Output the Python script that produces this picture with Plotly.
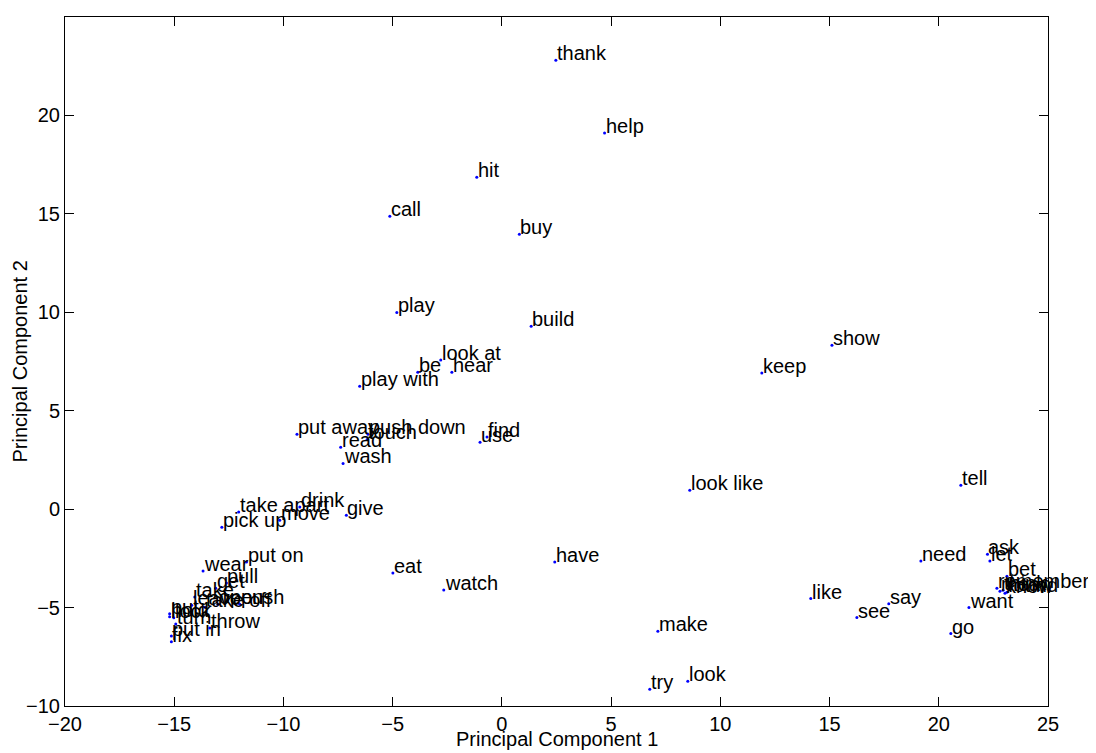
import plotly.graph_objects as go

words = ["thank", "help", "hit", "call", "buy", "play", "build", "show", "look at", "be",
         "hear", "keep", "play with", "put away", "push down", "touch", "read", "wash", "use", "find",
         "look like", "tell", "drink", "take apart", "give", "move", "pick up", "put on", "have", "need",
         "ask", "let", "bet", "remember", "mean", "think", "know", "found", "want", "like",
         "say", "see", "go", "make", "look", "try", "eat", "watch", "wear", "pull",
         "get", "take", "push", "leave", "open", "take off", "put", "hold", "lock", "turn",
         "throw", "put in", "fix"]
pc1 = [2.47, 4.70, -1.15, -5.13, 0.80, -4.81, 1.34, 15.11, -2.80, -3.85,
       -2.29, 11.90, -6.51, -9.38, -6.13, -6.17, -7.38, -7.27, -1.00, -0.68,
       8.60, 21.01, -9.25, -12.05, -7.12, -10.17, -12.82, -11.69, 2.42, 19.18,
       22.23, 22.34, 23.12, 22.66, 22.80, 22.94, 23.03, 23.12, 21.38, 14.14,
       17.71, 16.25, 20.55, 7.14, 8.51, 6.77, -4.99, -2.66, -13.68, -12.61,
       -13.10, -14.06, -12.00, -14.20, -13.00, -13.60, -15.21, -15.21, -15.02, -14.93,
       -13.37, -15.13, -15.13]
pc2 = [22.80, 19.11, 16.86, 14.88, 13.96, 9.99, 9.29, 8.33, 7.57, 6.96,
       6.96, 6.91, 6.24, 3.81, 3.81, 3.54, 3.15, 2.32, 3.40, 3.67,
       0.96, 1.22, 0.11, -0.15, -0.31, -0.56, -0.92, -2.68, -2.69, -2.64,
       -2.29, -2.64, -3.41, -4.02, -4.17, -4.12, -4.27, -4.22, -5.00, -4.54,
       -4.80, -5.51, -6.32, -6.20, -8.74, -9.15, -3.25, -4.11, -3.14, -3.75,
       -4.02, -4.46, -4.83, -4.88, -4.83, -4.98, -5.31, -5.47, -5.52, -5.84,
       -6.04, -6.45, -6.74]

FONT = "Liberation Sans, Arial, Helvetica, sans-serif"
FS = 20

fig = go.Figure()
fig.add_trace(go.Scatter(
    x=pc1, y=pc2, mode="markers",
    marker=dict(color="blue", size=3),
    cliponaxis=False, showlegend=False, hoverinfo="text", text=words,
))

annotations = [
    dict(x=xv, y=yv, xref="x", yref="y", text=w, showarrow=False,
         xanchor="left", yanchor="bottom", xshift=-1, yshift=-6,
         font=dict(family=FONT, size=FS, color="black"))
    for w, xv, yv in zip(words, pc1, pc2)
]
annotations.append(dict(x=0.5, y=0, xref="paper", yref="paper", text="Principal Component 1",
                        showarrow=False, xanchor="center", yanchor="top", yshift=-20,
                        font=dict(family=FONT, size=FS, color="black")))
annotations.append(dict(x=0, y=0.5, xref="paper", yref="paper", text="Principal Component 2",
                        showarrow=False, xanchor="center", yanchor="middle", xshift=-46,
                        textangle=-90,
                        font=dict(family=FONT, size=FS, color="black")))

axis_common = dict(
    showgrid=False, zeroline=False, showline=True, linecolor="black", linewidth=1,
    mirror="ticks", ticks="inside", ticklen=9, tickcolor="black",
    tickfont=dict(family=FONT, size=FS, color="black"),
)
fig.update_xaxes(range=[-20, 25], tickvals=list(range(-20, 26, 5)), **axis_common)
fig.update_yaxes(range=[-10, 25], tickvals=list(range(-10, 26, 5)), **axis_common)
fig.update_layout(
    width=1088, height=745,
    margin=dict(l=57, r=48, t=9, b=47),
    plot_bgcolor="white", paper_bgcolor="white",
    annotations=annotations,
)
fig.write_html("out.html")
